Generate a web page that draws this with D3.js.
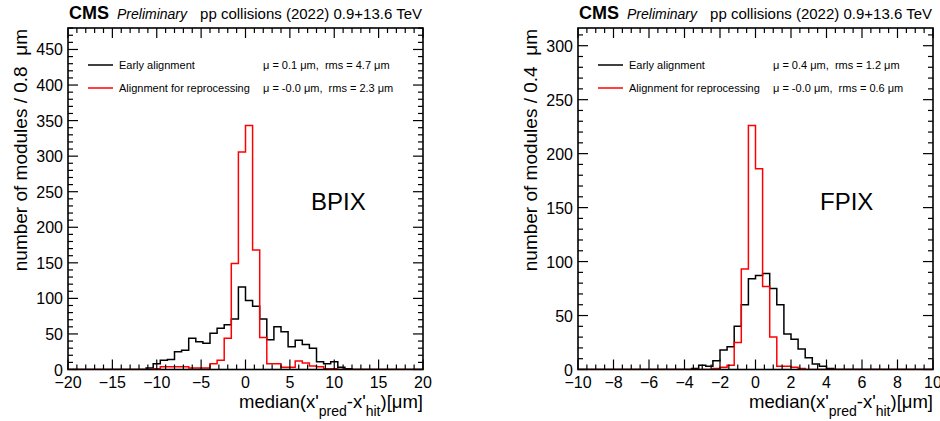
<!DOCTYPE html>
<html>
<head>
<meta charset="utf-8">
<script src="https://cdnjs.cloudflare.com/ajax/libs/d3/7.8.5/d3.min.js"></script>
<style>
  body { margin: 0; background: #fff; }
  text { font-family: "Liberation Sans", Arial, Helvetica, sans-serif; white-space: pre; }
</style>
</head>
<body>
<script>
// BPIX: 50 bins of 0.8 um from -20 to 20
var bpixEarly = [0,0,0,0,0,0,0,0,0,0, 0,2,8,13,14,25,27,44,39,37,
                 51,58,63,71,116,97,89,71,42,60, 53,32,41,35,30,11,8,11,3,1,
                 0,0,0,0,0,0,0,0,0,0];
var bpixReproc = [0,0,0,0,0,0,0,0,0,0, 0,0,1,4,4,4,4,2,2,2,
                  8,13,44,149,306,343,168,45,8,8, 3,3,12,9,5,4,1,1,0,0,
                  0,0,0,0,0,0,0,0,0,0];
// FPIX: 50 bins of 0.4 um from -10 to 10
var fpixEarly = [0,0,0,0,0,0,0,0,0,0, 0,0,0,0,0,0,1,4,3,8,
                 18,21,40,60,84,87,89,75,60,33, 28,19,11,5,3,1,0,0,0,0,
                 0,0,0,0,0,0,0,0,0,0];
var fpixReproc = [0,0,0,0,0,0,0,0,0,0, 0,0,0,0,0,0,0,0,0,1,
                  2,4,25,93,226,186,77,30,3,3, 2,1,0,0,0,0,0,0,0,0,
                  0,0,0,0,0,0,0,0,0,0];

var bpixStats = ["\u03bc = 0.1 \u03bcm,  rms = 4.7 \u03bcm", "\u03bc = -0.0 \u03bcm,  rms = 2.3 \u03bcm"];
var fpixStats = ["\u03bc = 0.4 \u03bcm,  rms = 1.2 \u03bcm", "\u03bc = -0.0 \u03bcm,  rms = 0.6 \u03bcm"];
var legendNames = ["Early alignment", "Alignment for reprocessing"];

var width = 940, height = 421;
var svg = d3.select("body").append("svg")
    .attr("width", width)
    .attr("height", height);

function histPath(counts, lo, bw, x, y) {
  var pts = [[lo, 0]];
  counts.forEach(function(c, i) {
    pts.push([lo + i * bw, c]);
    pts.push([lo + (i + 1) * bw, c]);
  });
  pts.push([lo + counts.length * bw, 0]);
  return d3.line().x(function(d) { return x(d[0]); }).y(function(d) { return y(d[1]); })(pts);
}

function drawPanel(o) {
  var left = o.left, right = o.left + 355, top = 28, bottom = 369.5;
  var x = d3.scaleLinear().domain(o.xdom).range([left, right]);
  var y = d3.scaleLinear().domain([0, o.ymax]).range([bottom, top]);
  var g = svg.append("g");

  g.append("clipPath").attr("id", "clip" + o.name)
    .append("rect").attr("x", left).attr("y", top).attr("width", right - left).attr("height", bottom - top);

  var hg = g.append("g").attr("clip-path", "url(#clip" + o.name + ")");
  hg.append("path").attr("d", histPath(o.early, o.xdom[0], o.bw, x, y))
    .attr("fill", "none").attr("stroke", "#000").attr("stroke-width", 1.5);
  hg.append("path").attr("d", histPath(o.reproc, o.xdom[0], o.bw, x, y))
    .attr("fill", "none").attr("stroke", "#ff0000").attr("stroke-width", 1.5);

  // ticks, drawn inside the frame on all four sides
  var xMinor = d3.range(o.xdom[0], o.xdom[1] + 1e-9, o.xminor);
  var yMinor = d3.range(0, o.ymax, 10);
  function isMajor(v, step) { return Math.abs(v / step - Math.round(v / step)) < 1e-6; }

  xMinor.forEach(function(v) {
    var len = isMajor(v, o.xmajor) ? 10 : 5;
    g.append("line").attr("x1", x(v)).attr("x2", x(v)).attr("y1", bottom).attr("y2", bottom - len)
      .attr("stroke", "#000").attr("stroke-width", 1.2);
    g.append("line").attr("x1", x(v)).attr("x2", x(v)).attr("y1", top).attr("y2", top + len)
      .attr("stroke", "#000").attr("stroke-width", 1.2);
  });
  yMinor.forEach(function(v) {
    var len = isMajor(v, 50) ? 10 : 5;
    g.append("line").attr("x1", left).attr("x2", left + len).attr("y1", y(v)).attr("y2", y(v))
      .attr("stroke", "#000").attr("stroke-width", 1.2);
    g.append("line").attr("x1", right).attr("x2", right - len).attr("y1", y(v)).attr("y2", y(v))
      .attr("stroke", "#000").attr("stroke-width", 1.2);
  });

  g.append("rect").attr("x", left).attr("y", top).attr("width", right - left).attr("height", bottom - top)
    .attr("fill", "none").attr("stroke", "#000").attr("stroke-width", 1.6);

  // tick labels
  x.ticks((o.xdom[1] - o.xdom[0]) / o.xmajor).forEach(function(v) {
    g.append("text").attr("x", x(v)).attr("y", 388).attr("text-anchor", "middle")
      .attr("font-size", 16).text(v < 0 ? "\u2212" + (-v) : v);
  });
  d3.range(0, o.ymax, 50).forEach(function(v) {
    g.append("text").attr("x", left - 5).attr("y", y(v) + 6).attr("text-anchor", "end")
      .attr("font-size", 16).text(v);
  });

  // axis titles
  var xt = g.append("text").attr("x", right).attr("y", 408).attr("text-anchor", "end").attr("font-size", 18.5);
  xt.append("tspan").text("median(x'");
  xt.append("tspan").attr("font-size", 14).attr("dy", 8).text("pred");
  xt.append("tspan").attr("dy", -8).text("-x'");
  xt.append("tspan").attr("font-size", 14).attr("dy", 8).text("hit");
  xt.append("tspan").attr("dy", -8).text(")[\u03bcm]");

  g.append("text").attr("transform", "translate(" + (left - 41) + "," + (top + 1) + ") rotate(-90)")
    .attr("text-anchor", "end").attr("font-size", 19)
    .text("number of modules / " + o.bw + "  \u03bcm");

  // header
  g.append("text").attr("x", left + 1).attr("y", 19).attr("font-size", 18).attr("font-weight", "bold").text("CMS");
  g.append("text").attr("x", left + 49).attr("y", 19).attr("font-size", 14).attr("font-style", "italic").text("Preliminary");
  g.append("text").attr("x", right - 1).attr("y", 19).attr("font-size", 15).attr("text-anchor", "end")
    .text("pp collisions (2022) 0.9+13.6 TeV");

  // legend
  var colors = ["#000", "#ff0000"];
  [0, 1].forEach(function(i) {
    var ly = 65 + i * 23;
    g.append("line").attr("x1", left + 20).attr("x2", left + 45).attr("y1", ly).attr("y2", ly)
      .attr("stroke", colors[i]).attr("stroke-width", 1.5);
    g.append("text").attr("x", left + 51).attr("y", ly + 4).attr("font-size", 11).text(legendNames[i]);
    g.append("text").attr("x", left + 195).attr("y", ly + 4).attr("font-size", 11).text(o.stats[i]);
  });

  g.append("text").attr("x", left + o.labelX).attr("y", 210).attr("font-size", 24).text(o.name);
}

drawPanel({name: "BPIX", left: 68, xdom: [-20, 20], bw: 0.8, ymax: 343 * 1.4,
  xmajor: 5, xminor: 1, early: bpixEarly, reproc: bpixReproc, stats: bpixStats, labelX: 243});
drawPanel({name: "FPIX", left: 578, xdom: [-10, 10], bw: 0.4, ymax: 226 * 1.4,
  xmajor: 2, xminor: 0.5, early: fpixEarly, reproc: fpixReproc, stats: fpixStats, labelX: 242});
</script>
</body>
</html>
